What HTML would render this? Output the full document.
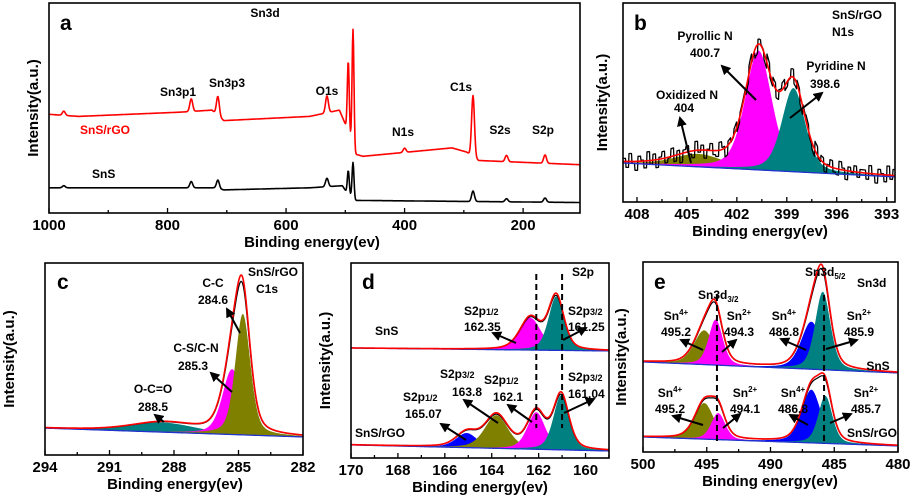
<!DOCTYPE html>
<html><head><meta charset="utf-8"><style>
html,body{margin:0;padding:0;background:#fff;}
svg{display:block;font-family:"Liberation Sans",Arial,sans-serif;font-weight:bold;}
.t{font-size:15px;font-weight:bold;fill:#000}
.an{font-size:12px;font-weight:bold;fill:#000}
.pl{font-size:21px;font-weight:bold;fill:#000}
</style></head><body>
<svg id="fig" width="911" height="498" viewBox="0 0 911 498" xmlns="http://www.w3.org/2000/svg">
<defs><marker id="ar" viewBox="0 0 10 10" refX="8" refY="5" markerWidth="5" markerHeight="5" orient="auto"><path d="M0,0L10,5L0,10z" fill="#000"/></marker></defs>
<g id="layer-fill"></g><g id="layer-line"></g><g id="layer-axes"></g>
<!-- panel a labels -->
<text class="pl" x="60" y="30">a</text>
<text class="an" x="265" y="17" text-anchor="middle">Sn3d</text>
<text class="an" x="178" y="96" text-anchor="middle">Sn3p1</text>
<text class="an" x="227" y="87" text-anchor="middle">Sn3p3</text>
<text class="an" x="327" y="95" text-anchor="middle">O1s</text>
<text class="an" x="461" y="91" text-anchor="middle">C1s</text>
<text class="an" x="403" y="136" text-anchor="middle">N1s</text>
<text class="an" x="500" y="134" text-anchor="middle">S2s</text>
<text class="an" x="543" y="134" text-anchor="middle">S2p</text>
<text class="an" x="80" y="134" fill="#f00" style="fill:#f00">SnS/rGO</text>
<text class="an" x="92" y="178">SnS</text>
<!-- panel b -->
<text class="pl" x="634" y="30">b</text>
<text class="an" x="832" y="19">SnS/rGO</text>
<text class="an" x="832" y="36">N1s</text>
<text class="an" x="705" y="40" text-anchor="middle">Pyrollic N</text>
<text class="an" x="705" y="57" text-anchor="middle">400.7</text>
<text class="an" x="836" y="70" text-anchor="middle">Pyridine N</text>
<text class="an" x="825" y="88" text-anchor="middle">398.6</text>
<text class="an" x="687" y="99" text-anchor="middle">Oxidized N</text>
<text class="an" x="684" y="112" text-anchor="middle">404</text>
<line x1="756" y1="100" x2="722" y2="66" stroke="#000" stroke-width="2" marker-end="url(#ar)"/>
<line x1="790" y1="118" x2="822" y2="93" stroke="#000" stroke-width="2" marker-end="url(#ar)"/>
<line x1="691" y1="163" x2="680" y2="118" stroke="#000" stroke-width="2" marker-end="url(#ar)"/>
<!-- panel c -->
<text class="pl" x="57" y="289">c</text>
<text class="an" x="248" y="276">SnS/rGO</text>
<text class="an" x="256" y="293">C1s</text>
<text class="an" x="213" y="287" text-anchor="middle">C-C</text>
<text class="an" x="213" y="304" text-anchor="middle">284.6</text>
<text class="an" x="196" y="352" text-anchor="middle">C-S/C-N</text>
<text class="an" x="193" y="370" text-anchor="middle">285.3</text>
<text class="an" x="153" y="393" text-anchor="middle">O-C=O</text>
<text class="an" x="153" y="411" text-anchor="middle">288.5</text>
<line x1="240" y1="333" x2="227" y2="309" stroke="#000" stroke-width="2" marker-end="url(#ar)"/>
<line x1="232" y1="392" x2="211" y2="373" stroke="#000" stroke-width="2" marker-end="url(#ar)"/>
<line x1="164" y1="422" x2="155" y2="415" stroke="#000" stroke-width="2" marker-end="url(#ar)"/>
<!-- panel d -->
<text class="pl" x="362" y="289">d</text>
<text class="an" x="572" y="276">S2p</text>
<text class="an" x="375" y="335">SnS</text>
<text class="an" x="355" y="437">SnS/rGO</text>
<text class="an" x="464" y="315">S2p<tspan font-size="9">1/2</tspan></text>
<text class="an" x="464" y="331">162.35</text>
<text class="an" x="568" y="315">S2p<tspan font-size="9">3/2</tspan></text>
<text class="an" x="568" y="331">161.25</text>
<text class="an" x="440" y="378">S2p<tspan font-size="9">3/2</tspan></text>
<text class="an" x="452" y="396">163.8</text>
<text class="an" x="484" y="384">S2p<tspan font-size="9">1/2</tspan></text>
<text class="an" x="493" y="401">162.1</text>
<text class="an" x="568" y="381">S2p<tspan font-size="9">3/2</tspan></text>
<text class="an" x="568" y="398">161.04</text>
<text class="an" x="403" y="401">S2p<tspan font-size="9">1/2</tspan></text>
<text class="an" x="405" y="418">165.07</text>
<line x1="516" y1="343" x2="493" y2="333" stroke="#000" stroke-width="2" marker-end="url(#ar)"/>
<line x1="563" y1="340" x2="586" y2="328" stroke="#000" stroke-width="2" marker-end="url(#ar)"/>
<line x1="498" y1="423" x2="464" y2="400" stroke="#000" stroke-width="2" marker-end="url(#ar)"/>
<line x1="532" y1="422" x2="508" y2="405" stroke="#000" stroke-width="2" marker-end="url(#ar)"/>
<line x1="564" y1="413" x2="594" y2="399" stroke="#000" stroke-width="2" marker-end="url(#ar)"/>
<line x1="466" y1="440" x2="441" y2="424" stroke="#000" stroke-width="2" marker-end="url(#ar)"/>
<!-- panel e -->
<text class="pl" x="654" y="289">e</text>
<text class="an" x="857" y="287">Sn3d</text>
<text class="an" x="805" y="276" font-size="11">Sn3d<tspan font-size="8" dy="3">5/2</tspan></text>
<text class="an" x="698" y="299" font-size="11">Sn3d<tspan font-size="8" dy="3">3/2</tspan></text>
<text class="an" x="878" y="370" text-anchor="middle">SnS</text>
<text class="an" x="872" y="437" text-anchor="middle">SnS/rGO</text>
<text class="an" x="676" y="320" text-anchor="middle">Sn<tspan font-size="8" dy="-5">4+</tspan></text>
<text class="an" x="676" y="336" text-anchor="middle">495.2</text>
<text class="an" x="739" y="320" text-anchor="middle">Sn<tspan font-size="8" dy="-5">2+</tspan></text>
<text class="an" x="739" y="336" text-anchor="middle">494.3</text>
<text class="an" x="784" y="320" text-anchor="middle">Sn<tspan font-size="8" dy="-5">4+</tspan></text>
<text class="an" x="784" y="336" text-anchor="middle">486.8</text>
<text class="an" x="859" y="320" text-anchor="middle">Sn<tspan font-size="8" dy="-5">2+</tspan></text>
<text class="an" x="859" y="336" text-anchor="middle">485.9</text>
<text class="an" x="670" y="397" text-anchor="middle">Sn<tspan font-size="8" dy="-5">4+</tspan></text>
<text class="an" x="670" y="413" text-anchor="middle">495.2</text>
<text class="an" x="745" y="397" text-anchor="middle">Sn<tspan font-size="8" dy="-5">2+</tspan></text>
<text class="an" x="745" y="413" text-anchor="middle">494.1</text>
<text class="an" x="793" y="397" text-anchor="middle">Sn<tspan font-size="8" dy="-5">4+</tspan></text>
<text class="an" x="793" y="413" text-anchor="middle">486.8</text>
<text class="an" x="866" y="397" text-anchor="middle">Sn<tspan font-size="8" dy="-5">2+</tspan></text>
<text class="an" x="866" y="413" text-anchor="middle">485.7</text>
<line x1="703" y1="350" x2="681" y2="340" stroke="#000" stroke-width="2" marker-end="url(#ar)"/>
<line x1="722" y1="352" x2="736" y2="340" stroke="#000" stroke-width="2" marker-end="url(#ar)"/>
<line x1="806" y1="350" x2="781" y2="339" stroke="#000" stroke-width="2" marker-end="url(#ar)"/>
<line x1="826" y1="349" x2="857" y2="340" stroke="#000" stroke-width="2" marker-end="url(#ar)"/>
<line x1="703" y1="425" x2="673" y2="416" stroke="#000" stroke-width="2" marker-end="url(#ar)"/>
<line x1="723" y1="428" x2="740" y2="414" stroke="#000" stroke-width="2" marker-end="url(#ar)"/>
<line x1="808" y1="425" x2="790" y2="415" stroke="#000" stroke-width="2" marker-end="url(#ar)"/>
<line x1="830" y1="423" x2="851" y2="414" stroke="#000" stroke-width="2" marker-end="url(#ar)"/>
</svg>
<script>
// ---------- data ----------
const aRedBgE=[1000,950,780,725,705,560,510,498,483,470,320,295,275,104];
const aRedBgI=[47,46,48,49,44,46,49,41,28,27,31,29,25,23];
const aRedPkE=[975,760,715,531,495,487,400,284.5,228,163];
const aRedPkH=[2,6,9,8,34,56,2,29,3,4];
const aBlkBgE=[1000,720,705,560,505,498,483,104];
const aBlkBgI=[12,12,11,12,13,10,6,5];
const aBlkPkE=[975,760,715,531,495,487,284.5,228,163];
const aBlkPkH=[1,3,4,4,11,17,5,1.5,2];
const aTicks=[1000,800,600,400,200];
const bBase=[19.6,12.6];
const bPkE=[404.3,400.7,398.6];
const bPkH=[6.5,60,42];
const bPkW=[1.5,0.8,0.7];
const bNoise=[1.5,-3,4,-1,-4.5,2.5,0.5,-3.5,4.5,-2,3,-4,1,3.5,-2.5,-0.5,4,-3,2,-4.5,1.5,3,-1.5,-3.5,4.5,-1,2.5,-4,0.5,3.5,-2,-3,4,1,-4.5,2,-0.5,3,-2.5,1.5];
const bTicks=[408,405,402,399,396,393];
const cBase=[14,9.4];
const cPkE=[288.5,285.3,284.8];
const cPkH=[5,34,63];
const cPkW=[1.5,0.45,0.35];
const cTicks=[294,291,288,285,282];
const dSnSBase=[56.4,54.9];
const dSnSPkE=[162.35,161.25];
const dSnSPkH=[16.5,27.6];
const dSnSPkW=[0.45,0.33];
const dRgoBase=[6.7,3.6];
const dRgoPkE=[165.07,163.8,162.1,161.04];
const dRgoPkH=[7.5,17,19,28];
const dRgoPkW=[0.45,0.5,0.38,0.33];
const dTicks=[170,168,166,164,162,160];
const eSnSBase=[47.4,41.6];
const eSnSPkE=[495.2,494.3,486.8,485.9];
const eSnSPkH=[18,24,25,41];
const eSnSPkW=[0.8,0.55,0.8,0.6];
const eRgoBase=[7.9,3.2];
const eRgoPkE=[495.2,494.1,486.8,485.7];
const eRgoPkH=[19,14,28,25];
const eRgoPkW=[0.75,0.55,0.75,0.55];
const eTicks=[500,495,490,485,480];

const NS='http://www.w3.org/2000/svg';
const gFill=document.getElementById('layer-fill');
const gLine=document.getElementById('layer-line');
const gAx=document.getElementById('layer-axes');
function mk(tag,attrs,parent){const e=document.createElementNS(NS,tag);for(const k in attrs)e.setAttribute(k,attrs[k]);parent.appendChild(e);return e;}
function pv(x,c,a,s){const d=(x-c)/s;return a*(0.6*Math.exp(-0.5*d*d)+0.4/(1+d*d/1.4));}
function lerpBg(E,es,is){if(E>=es[0])return is[0];for(let i=1;i<es.length;i++){if(E>=es[i]){const t=(es[i-1]-E)/(es[i-1]-es[i]);return is[i-1]+t*(is[i]-is[i-1]);}}return is[is.length-1];}
function axis(P){
  P.xs=E=>P.x0+(P.eL-E)/(P.eL-P.eR)*(P.x1-P.x0);
  P.ys=I=>P.y1-I/100*(P.y1-P.y0);
  P.Es=[];const n=Math.round((P.x1-P.x0)*2);
  for(let i=0;i<=n;i++)P.Es.push(P.eL-(P.eL-P.eR)*i/n);
  P.base=E=>P.b0+(P.eL-E)/(P.eL-P.eR)*(P.b1-P.b0);
  return P;
}
function drawFrame(P,ticks,minor,name){
  const r=mk('rect',{x:P.x0,y:P.y0,width:P.x1-P.x0,height:P.y1-P.y0,fill:'none',stroke:'#000','stroke-width':1.6},gAx);
  
  
  for(let E=ticks[0];E>=P.eR-1e-9;E-=minor){
    const x=P.xs(E);if(x>P.x1+0.5)continue;
    const isMaj=ticks.some(t=>Math.abs(t-E)<1e-6);
    const t=mk('line',{x1:x,x2:x,y1:P.y1,y2:P.y1-(isMaj?5:3),stroke:'#000','stroke-width':1.3},gAx);
    
    
  }
  ticks.forEach(v=>{
    const tx=mk('text',{x:P.xs(v),y:P.y1+17,'text-anchor':'middle',class:'t'},gAx);
    tx.textContent=String(v);
    
    
  });
  const xt=mk('text',{x:P.tx,y:P.y1+34,'text-anchor':'middle',class:'t'},gAx);
  xt.textContent='Binding energy(ev)';
  
  
  const yt=mk('text',{x:P.yx,y:(P.y0+P.y1)/2,'text-anchor':'middle',class:'t',transform:'rotate(-90 '+P.yx+' '+(P.y0+P.y1)/2+')'},gAx);
  yt.textContent='Intensity(a.u.)';
  
  
}
function path(P,fn){return P.Es.map((E,i)=>(i?'L':'M')+P.xs(E).toFixed(1)+','+P.ys(fn(E,i)).toFixed(1)).join('');}
function comp(P,c,h,w,color,name){
  let d=path(P,E=>P.base(E)+pv(E,c,h,w));
  for(let i=P.Es.length-1;i>=0;i--){d+='L'+P.xs(P.Es[i]).toFixed(1)+','+P.ys(P.base(P.Es[i])).toFixed(1);}
  const p=mk('path',{d:d+'Z',fill:color,stroke:'none'},gFill);
  
  
}
function line(P,fn,color,w,name){
  const p=mk('path',{d:path(P,fn),fill:'none',stroke:color,'stroke-width':w,'stroke-linejoin':'round'},gLine);
  
  
}
function fitSet(P,b,Es,Hs,Ws,colors,prefix,noise){
  P.b0=b[0];P.b1=b[1];
  const B=P.base;
  Es.forEach((c,i)=>comp(P,c,Hs[i],Ws[i],colors[i],prefix+'-component-'+c));
  const env=E=>{let s=B(E);Es.forEach((c,i)=>{s+=pv(E,c,Hs[i],Ws[i]);});return s;};
  line(P,(E,i)=>noise?env(E)+noise[Math.floor(i/6)%noise.length]:B(E)+(env(E)-B(E))*0.96,'#000',noise?1.3:1.2,prefix+'-raw-data');
  line(P,B,'#2233cc',1.3,prefix+'-baseline');
  line(P,env,'#f00',1.6,prefix+'-fit-envelope');
}
const PA=axis({x0:49,x1:580,y0:3,y1:213,eL:1000,eR:104,tx:312,yx:38});
function survey(bgE,bgI,pkE,pkH){return E=>{let s=lerpBg(E,bgE,bgI);pkE.forEach((c,i)=>{const w=c>480&&c<500?1.6:2.4;s+=pkH[i]*Math.exp(-0.5*((E-c)/w)**2);});return s;};}
line(PA,survey(aBlkBgE,aBlkBgI,aBlkPkE,aBlkPkH),'#000',1.6,'survey-sns-line');
line(PA,survey(aRedBgE,aRedBgI,aRedPkE,aRedPkH),'#f00',1.6,'survey-sns-rgo-line');
drawFrame(PA,aTicks,100,'panel-a');
const PB=axis({x0:623,x1:895,y0:3,y1:202,eL:408.84,eR:392.5,tx:760,yx:607});
fitSet(PB,bBase,bPkE,bPkH,bPkW,['#808000','#ff00ff','#008080'],'n1s',bNoise);
drawFrame(PB,bTicks,1.5,'panel-b');
const PC=axis({x0:45,x1:303,y0:263,y1:455,eL:294,eR:282,tx:175,yx:14});
fitSet(PC,cBase,cPkE,cPkH,cPkW,['#008080','#ff00ff','#808000'],'c1s',null);
drawFrame(PC,cTicks,1.5,'panel-c');
const PD=axis({x0:351,x1:609,y0:263,y1:458,eL:170,eR:159,tx:480,yx:330});
fitSet(PD,dSnSBase,dSnSPkE,dSnSPkH,dSnSPkW,['#ff00ff','#008080'],'s2p-sns',null);
fitSet(PD,dRgoBase,dRgoPkE,dRgoPkH,dRgoPkW,['#0000ff','#808000','#ff00ff','#008080'],'s2p-sns-rgo',null);
[162.1,161.0].forEach(v=>{const l=mk('line',{x1:PD.xs(v),x2:PD.xs(v),y1:274,y2:428,stroke:'#000','stroke-width':2,'stroke-dasharray':'6,4'},gAx);

});
drawFrame(PD,dTicks,1,'panel-d');
const PE=axis({x0:643,x1:898,y0:262,y1:452,eL:500,eR:480,tx:770,yx:626});
fitSet(PE,eSnSBase,eSnSPkE,eSnSPkH,eSnSPkW,['#808000','#ff00ff','#0000ff','#008080'],'sn3d-sns',null);
fitSet(PE,eRgoBase,eRgoPkE,eRgoPkH,eRgoPkW,['#808000','#ff00ff','#0000ff','#008080'],'sn3d-sns-rgo',null);
[494.2,485.8].forEach(v=>{const l=mk('line',{x1:PE.xs(v),x2:PE.xs(v),y1:295,y2:442,stroke:'#000','stroke-width':2,'stroke-dasharray':'6,4'},gAx);

});
drawFrame(PE,eTicks,2.5,'panel-e');
</script>
</body></html>
